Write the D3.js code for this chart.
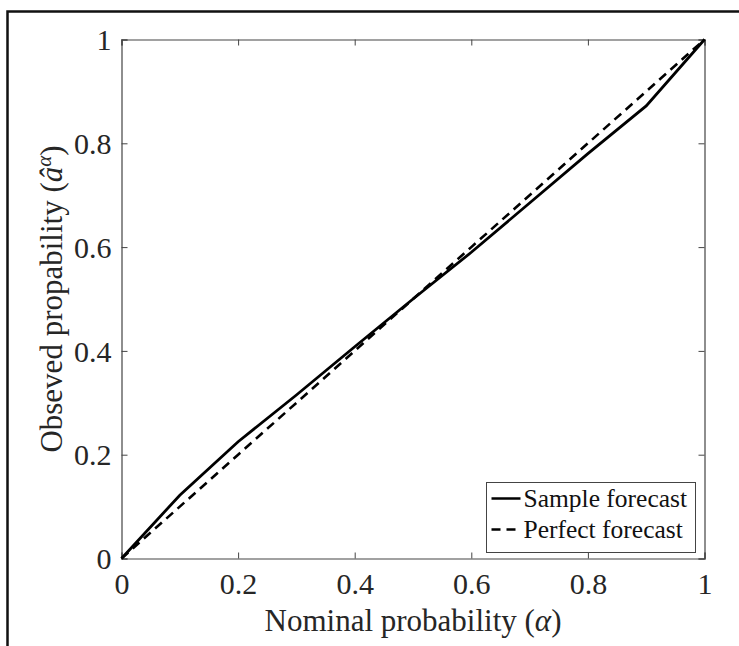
<!DOCTYPE html>
<html>
<head>
<meta charset="utf-8">
<script src="https://cdn.jsdelivr.net/npm/d3@7"></script>
<style>
  body { margin: 0; background: #fff; }
  svg { display: block; font-family: "Liberation Serif", "Times New Roman", serif; }
</style>
</head>
<body>
<div id="chart"></div>
<script>
const alphaLevels = [0, 0.1, 0.2, 0.3, 0.4, 0.5, 0.6, 0.7, 0.8, 0.9, 1];
const sampleObserved = [0, 0.122, 0.225, 0.315, 0.408, 0.5, 0.59, 0.685, 0.78, 0.872, 1];
const perfectObserved = [0, 0.1, 0.2, 0.3, 0.4, 0.5, 0.6, 0.7, 0.8, 0.9, 1];
const tickValues = [0, 0.2, 0.4, 0.6, 0.8, 1];
const legendNames = ["Sample forecast", "Perfect forecast"];

const W = 739, H = 646;
const margin = { left: 121.5, top: 39.5, right: 34.5, bottom: 87.5 };
const w = W - margin.left - margin.right;
const h = H - margin.top - margin.bottom;

const svg = d3.select("#chart").append("svg")
  .attr("width", W).attr("height", H);

// outer frame of the figure
svg.append("rect")
  .attr("x", 7.5).attr("y", 11.5)
  .attr("width", 760).attr("height", 700)
  .attr("fill", "none").attr("stroke", "#111").attr("stroke-width", 2.5);

const g = svg.append("g")
  .attr("transform", "translate(" + margin.left + "," + margin.top + ")");

const x = d3.scaleLinear().domain([0, 1]).range([0, w]);
const y = d3.scaleLinear().domain([0, 1]).range([h, 0]);
const fmt = d => d === 0 || d === 1 ? String(d) : d.toFixed(1);

// axes with inward ticks, box on
const axisColor = "#444";
const axBottom = g.append("g").attr("transform", "translate(0," + h + ")")
  .call(d3.axisBottom(x).tickValues(tickValues).tickSize(-6).tickPadding(14).tickFormat(fmt));
const axLeft = g.append("g")
  .call(d3.axisLeft(y).tickValues(tickValues).tickSize(-6).tickPadding(10).tickFormat(fmt));
const axTop = g.append("g")
  .call(d3.axisTop(x).tickValues(tickValues).tickSize(-6).tickFormat(""));
const axRight = g.append("g").attr("transform", "translate(" + w + ",0)")
  .call(d3.axisRight(y).tickValues(tickValues).tickSize(-6).tickFormat(""));

[axBottom, axLeft, axTop, axRight].forEach(a => {
  a.select(".domain").attr("stroke", axisColor).attr("stroke-width", 1.2);
  a.selectAll(".tick line").attr("stroke", axisColor).attr("stroke-width", 1);
  a.selectAll("text").attr("fill", "#262626").style("font-size", "30px")
    .style("font-family", "'Liberation Serif', 'Times New Roman', serif");
});
axLeft.selectAll("text").attr("dy", "0.34em");
axBottom.selectAll("text").attr("dy", "0.71em");

// lines
const line = d3.line().x(d => x(d[0])).y(d => y(d[1]));
g.append("path")
  .datum(alphaLevels.map((a, i) => [a, perfectObserved[i]]))
  .attr("d", line).attr("fill", "none")
  .attr("stroke", "#000").attr("stroke-width", 2.6).attr("stroke-dasharray", "9,6");
g.append("path")
  .datum(alphaLevels.map((a, i) => [a, sampleObserved[i]]))
  .attr("d", line).attr("fill", "none")
  .attr("stroke", "#000").attr("stroke-width", 2.8);

// axis labels
const xl = svg.append("text")
  .attr("x", margin.left + w / 2).attr("y", 631)
  .attr("text-anchor", "middle").style("font-size", "31px").attr("fill", "#262626");
xl.append("tspan").text("Nominal probability (");
xl.append("tspan").style("font-style", "italic").text("α");
xl.append("tspan").text(")");

const yl = svg.append("text")
  .attr("transform", "translate(62," + (margin.top + h / 2) + ") rotate(-90)")
  .attr("text-anchor", "middle").style("font-size", "31px").attr("fill", "#262626");
yl.append("tspan").text("Obseved propability (");
yl.append("tspan").style("font-style", "italic").text("â");
yl.append("tspan").style("font-style", "italic").style("font-size", "21px").attr("dy", "-11").text("α");
yl.append("tspan").attr("dy", "11").text(")");

// legend
const lg = svg.append("g").attr("transform", "translate(486.5,482.5)");
lg.append("rect").attr("width", 209).attr("height", 70)
  .attr("fill", "#fff").attr("stroke", axisColor).attr("stroke-width", 1);
legendNames.forEach((name, i) => {
  const yy = 16 + i * 31;
  lg.append("line").attr("x1", 5).attr("x2", 34).attr("y1", yy).attr("y2", yy)
    .attr("stroke", "#000").attr("stroke-width", 2.5)
    .attr("stroke-dasharray", i === 1 ? "9,6" : null);
  lg.append("text").attr("x", 37).attr("y", yy).attr("dy", "0.34em")
    .style("font-size", "25.5px").attr("fill", "#111").text(name);
});
</script>
</body>
</html>
